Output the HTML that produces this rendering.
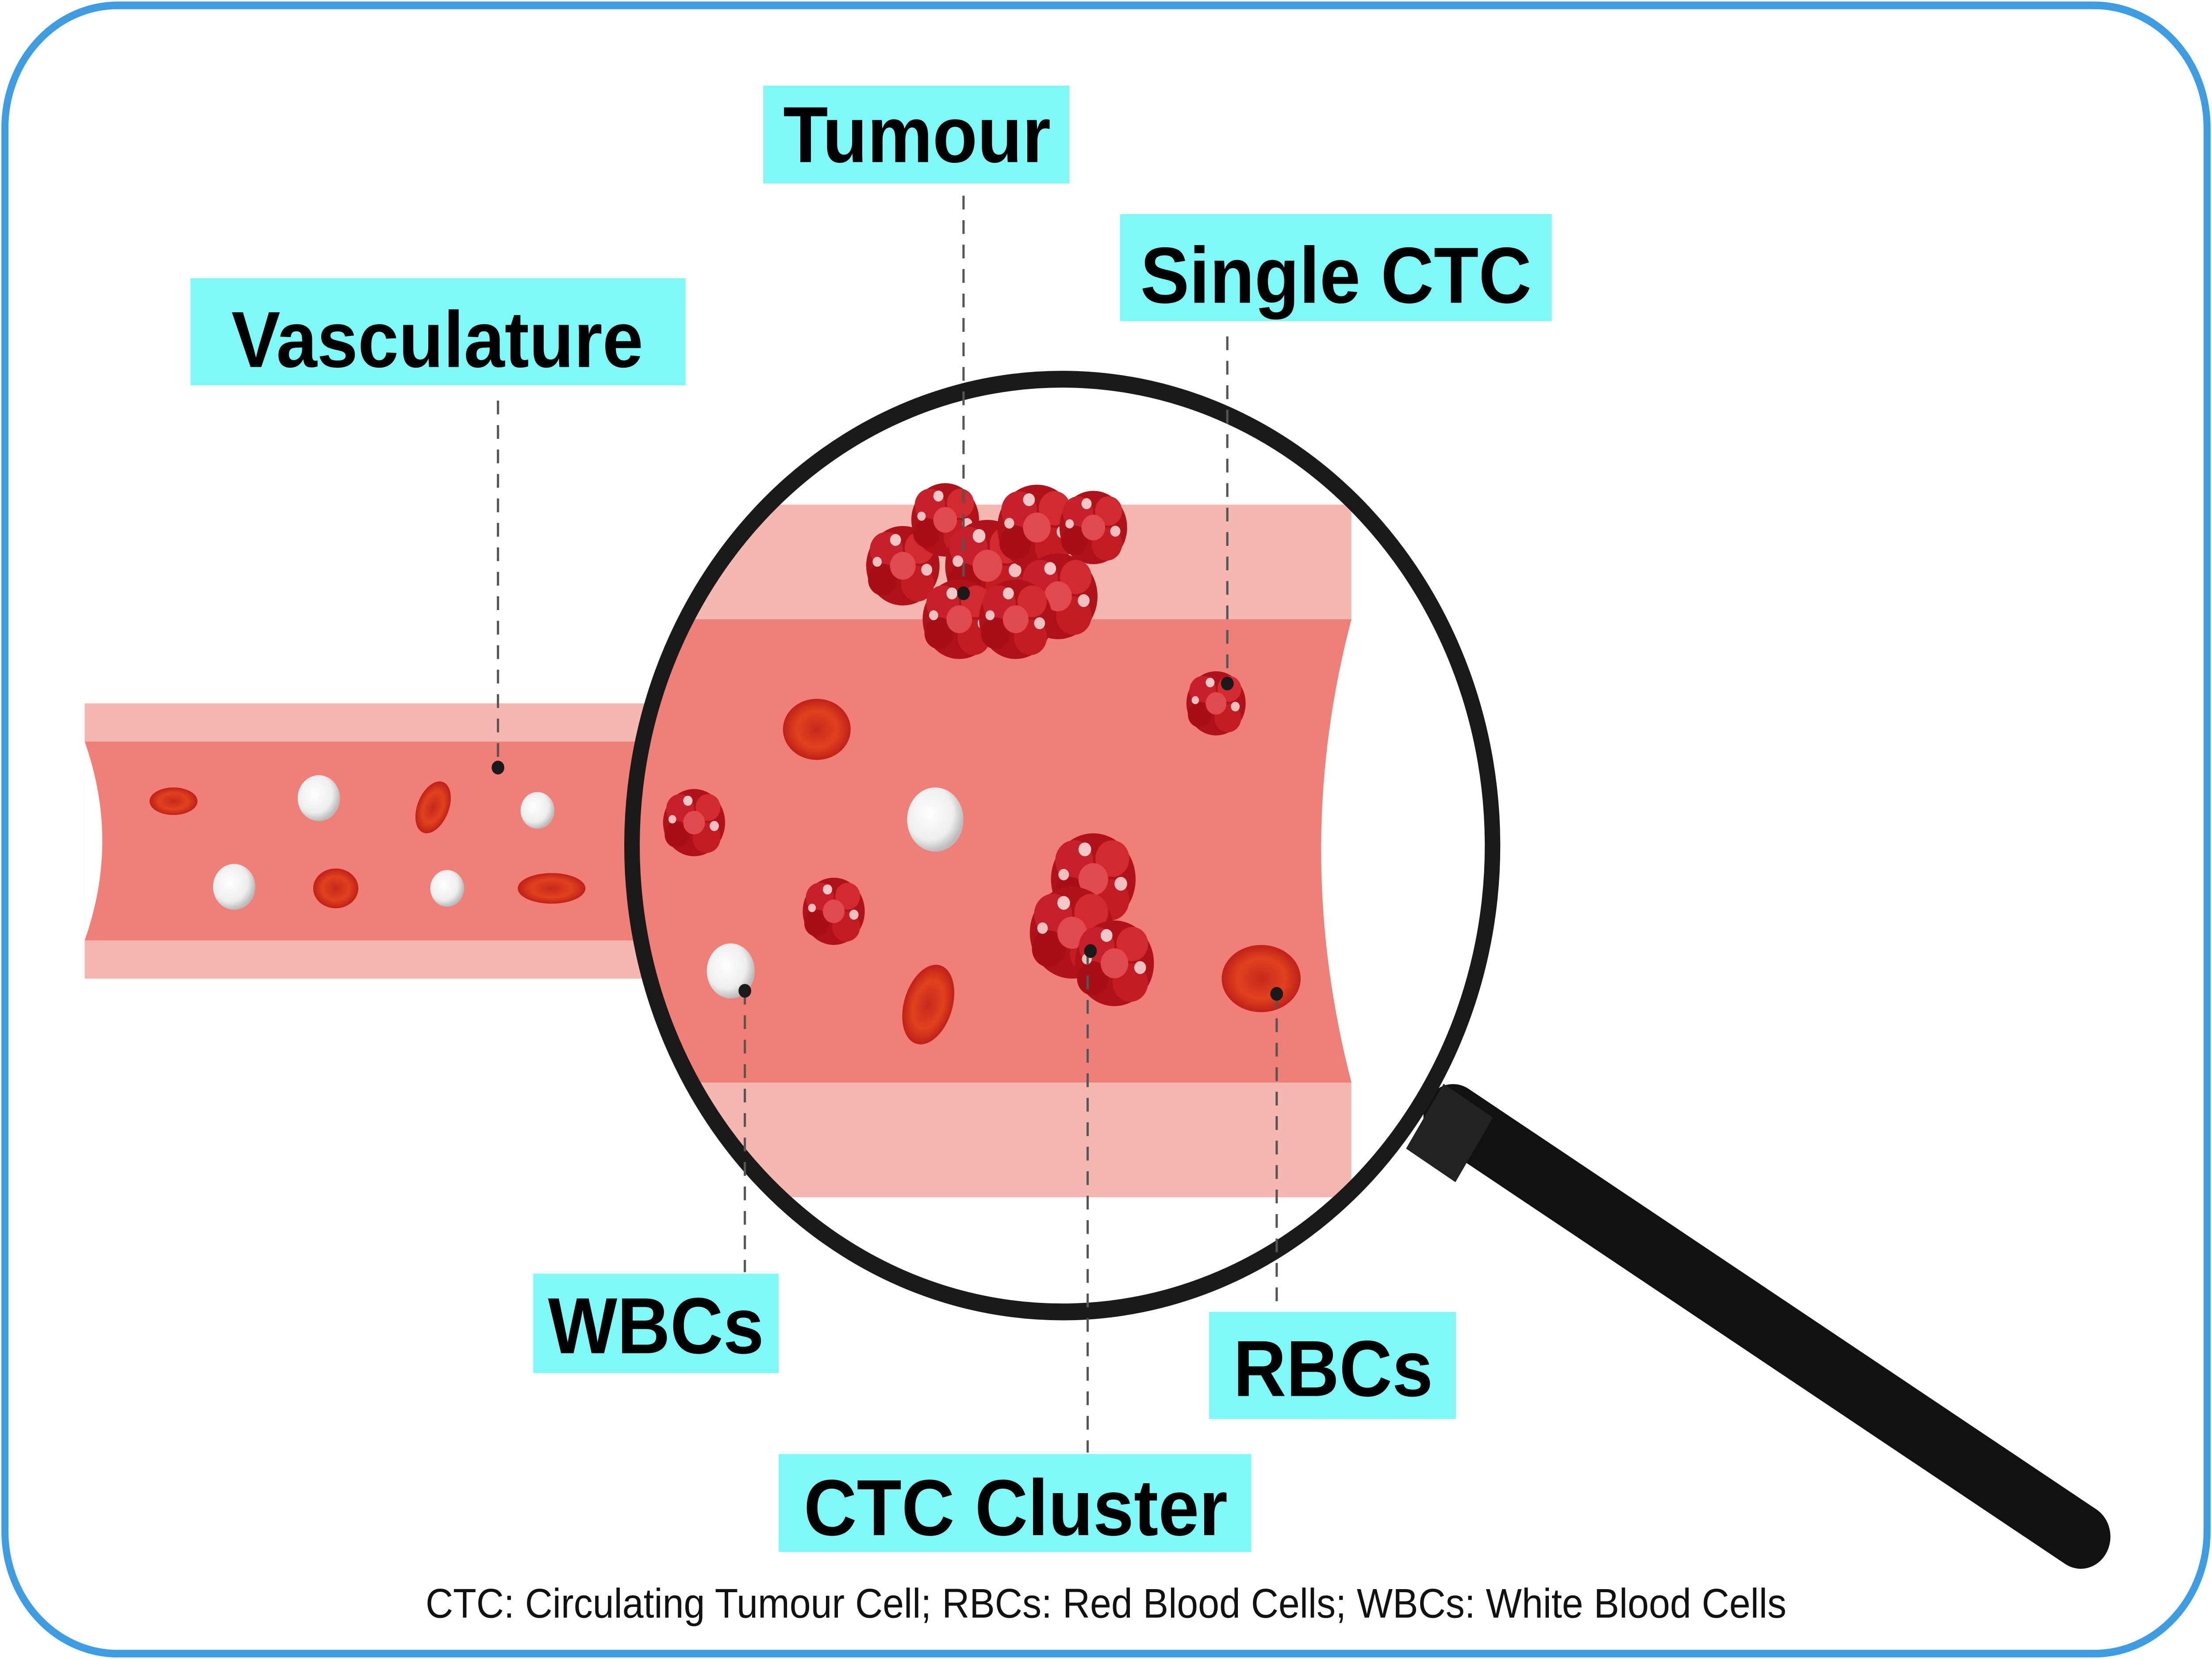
<!DOCTYPE html>
<html><head><meta charset="utf-8"><style>
html,body{margin:0;padding:0;background:#fff;overflow:hidden;width:100vw;height:100vh;}
svg{display:block;width:100vw;height:100vh;}
text{font-family:"Liberation Sans",sans-serif;}
</style></head><body>
<svg viewBox="0 0 1568 1085" preserveAspectRatio="none" xmlns="http://www.w3.org/2000/svg">
<defs>
<clipPath id="lens"><circle cx="753" cy="553" r="302"/></clipPath>
<radialGradient id="rbc" cx="50%" cy="50%" r="50%"><stop offset="0" stop-color="#c8281c"/><stop offset="0.6" stop-color="#e0421e"/><stop offset="1" stop-color="#c02018"/></radialGradient>
<radialGradient id="wbc" cx="40%" cy="40%" r="60%"><stop offset="0" stop-color="#ffffff"/><stop offset="0.7" stop-color="#eeeeee"/><stop offset="1" stop-color="#bbbbbb"/></radialGradient>
<g id="ctc">
<circle cx="0" cy="0" r="20" fill="#b0121a"/>
<circle cx="-9" cy="-8" r="9" fill="#c8202a"/><circle cx="9" cy="-9" r="8" fill="#d22a30"/>
<circle cx="-11" cy="7" r="8" fill="#a80e16"/><circle cx="8" cy="9" r="9" fill="#c41c24"/>
<circle cx="0" cy="0" r="7" fill="#e04a4e"/><circle cx="-4" cy="-13" r="3" fill="#f3c8c8"/>
<circle cx="13" cy="2" r="3" fill="#f0c0c0"/><circle cx="-14" cy="-2" r="2.5" fill="#eec0c0"/>
</g>
</defs>
<rect width="1568" height="1085" fill="#fff"/>
<rect x="3.5" y="3.5" width="1561" height="1078" rx="80" fill="none" stroke="#3d9ce2" stroke-width="5"/>

<rect x="60" y="460" width="400" height="180" fill="#f5b8b0"/>
<path d="M60,485 L460,485 L460,615 L60,615 Q85,550 60,485 Z" fill="#f07f78"/>
<path d="M60,485 Q85,550 60,615 Z" fill="#fff"/>
<ellipse cx="123" cy="524" rx="17" ry="9" fill="url(#rbc)"/>
<circle cx="226" cy="522" r="15" fill="url(#wbc)"/>
<ellipse cx="307" cy="528" rx="11" ry="18" transform="rotate(25 307 528)" fill="url(#rbc)"/>
<circle cx="381" cy="530" r="12" fill="url(#wbc)"/>
<circle cx="166" cy="580" r="15" fill="url(#wbc)"/>
<ellipse cx="238" cy="581" rx="16" ry="13" fill="url(#rbc)"/>
<circle cx="317" cy="581" r="12" fill="url(#wbc)"/>
<ellipse cx="391" cy="581" rx="24" ry="10" fill="url(#rbc)"/>

<g clip-path="url(#lens)">
<rect x="440" y="240" width="640" height="620" fill="#fff"/>
<rect x="440" y="330" width="518" height="453" fill="#f5b8b0"/>
<rect x="440" y="405" width="518" height="303" fill="#f07f78"/>
<path d="M958,405 Q915,555 958,708 L1070,708 L1070,405 Z" fill="#fff"/>
<path d="M958,330 L1070,330 L1070,783 L958,783 Z" fill="#fff"/>
</g>
<g>
<use href="#ctc" transform="translate(640,370) scale(1.3)"/>
<use href="#ctc" transform="translate(670,340) scale(1.2)"/>
<use href="#ctc" transform="translate(700,370) scale(1.5)"/>
<use href="#ctc" transform="translate(735,345) scale(1.4)"/>
<use href="#ctc" transform="translate(775,345) scale(1.2)"/>
<use href="#ctc" transform="translate(750,390) scale(1.4)"/>
<use href="#ctc" transform="translate(680,405) scale(1.3)"/>
<use href="#ctc" transform="translate(720,405) scale(1.3)"/>
</g>
<use href="#ctc" transform="translate(862,460) scale(1.05)"/>
<use href="#ctc" transform="translate(492,538) scale(1.1)"/>
<use href="#ctc" transform="translate(591,596) scale(1.1)"/>
<use href="#ctc" transform="translate(775,575) scale(1.5)"/>
<use href="#ctc" transform="translate(760,610) scale(1.5)"/>
<use href="#ctc" transform="translate(790,630) scale(1.4)"/>
<ellipse cx="579" cy="477" rx="24" ry="20" fill="url(#rbc)"/>
<ellipse cx="663" cy="536" rx="20" ry="21" fill="url(#wbc)"/>
<ellipse cx="518" cy="635" rx="17" ry="18" fill="url(#wbc)"/>
<ellipse cx="658" cy="657" rx="17" ry="27" transform="rotate(20 658 657)" fill="url(#rbc)"/>
<ellipse cx="894" cy="640" rx="28" ry="22" fill="url(#rbc)"/>

<line x1="1030" y1="730" x2="1475" y2="1005" stroke="#111" stroke-width="42" stroke-linecap="round"/>
<line x1="1010" y1="730" x2="1045" y2="752" stroke="#222" stroke-width="50"/>
<circle cx="753" cy="553" r="305" fill="none" stroke="#1a1a1a" stroke-width="11"/>

<g stroke="#555" stroke-width="1.6" stroke-dasharray="9,7" fill="none">
<line x1="683" y1="128" x2="683" y2="388"/>
<line x1="870" y1="220" x2="870" y2="447"/>
<line x1="353" y1="262" x2="353" y2="502"/>
<line x1="528" y1="648" x2="528" y2="832"/>
<line x1="905" y1="650" x2="905" y2="857"/>
<line x1="771" y1="622" x2="771" y2="950"/>
</g>
<g fill="#1a1a1a">
<circle cx="683" cy="388" r="4.5"/><circle cx="870" cy="447" r="4.5"/><circle cx="353" cy="502" r="4.5"/>
<circle cx="528" cy="648" r="4.5"/><circle cx="905" cy="650" r="4.5"/><circle cx="773" cy="622" r="4.5"/>
</g>

<g fill="#7ff8f8">
<rect x="541" y="56" width="217" height="64"/>
<rect x="794" y="140" width="306" height="70"/>
<rect x="135" y="182" width="351" height="70"/>
<rect x="378" y="833" width="174" height="65"/>
<rect x="857" y="858" width="175" height="70"/>
<rect x="552" y="951" width="335" height="64"/>
</g>
<g fill="#000" font-size="52" font-weight="bold" text-anchor="middle">
<text x="650" y="106">Tumour</text>
<text x="947" y="198">Single CTC</text>
<text x="310" y="240">Vasculature</text>
<text x="465" y="885">WBCs</text>
<text x="945" y="913">RBCs</text>
<text x="720" y="1004">CTC Cluster</text>
</g>
<text x="784" y="1058" font-size="27" text-anchor="middle" fill="#111">CTC: Circulating Tumour Cell; RBCs: Red Blood Cells; WBCs:  White Blood Cells</text>
</svg>
</body></html>
